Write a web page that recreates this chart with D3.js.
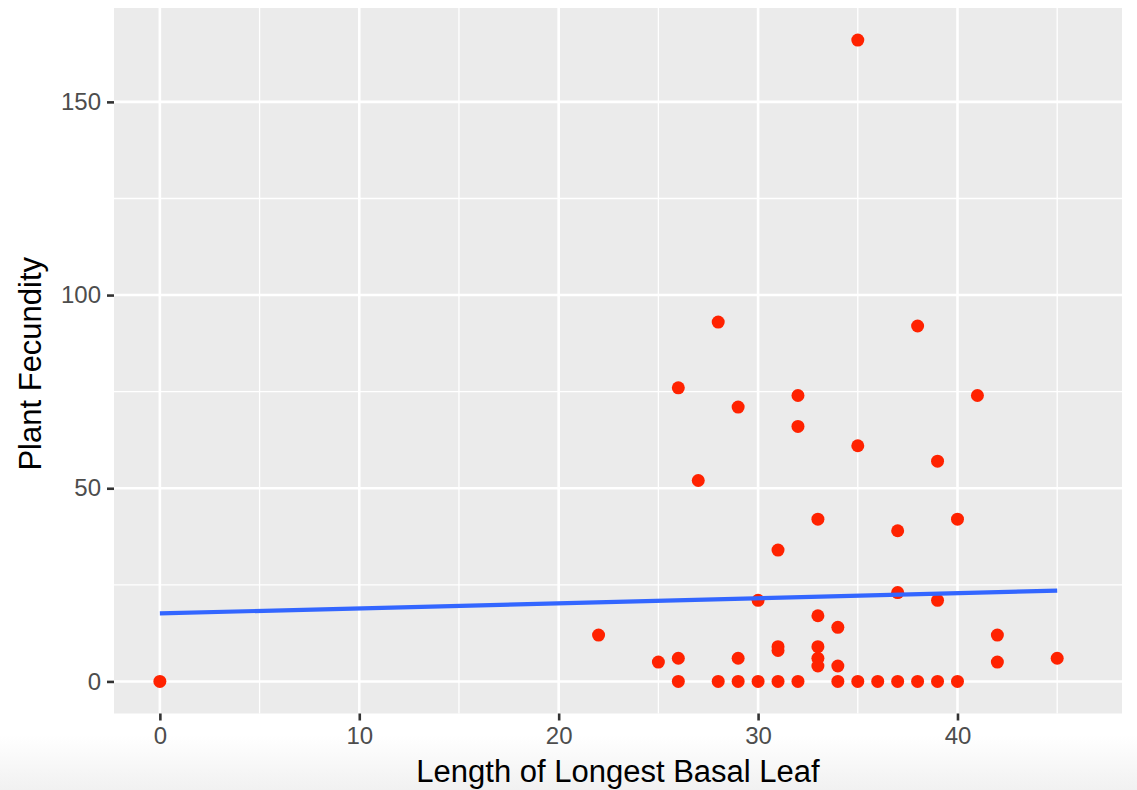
<!DOCTYPE html>
<meta charset="utf-8">
<style>
body { margin: 0; background: #fff; }
text { font-family: "Liberation Sans", Arial, Helvetica, sans-serif; }
</style>
<body>
<script src="https://d3js.org/d3.v7.min.js"></script>
<script>

// leaf length (x) and fecundity (y), one entry per plant
var leafLength = [0, 22, 25, 26, 26, 26, 27, 28, 28, 29, 29, 29, 30, 30,
                  31, 31, 31, 31, 32, 32, 32, 33, 33, 33, 33, 33, 34, 34, 34,
                  35, 35, 35, 36, 37, 37, 37, 38, 38, 39, 39, 39, 40, 40,
                  41, 42, 42, 45];
var fecundity  = [0, 12, 5, 76, 6, 0, 52, 93, 0, 71, 6, 0, 21, 0,
                  34, 9, 8, 0, 74, 66, 0, 42, 17, 9, 6, 4, 14, 4, 0,
                  166, 61, 0, 0, 39, 23, 0, 92, 0, 57, 21, 0, 42, 0,
                  74, 12, 5, 6];

// lm fit line
var fitX = [0, 45];
var fitY = [17.6, 23.5];

var xTicks = [0, 10, 20, 30, 40];
var xMinor = [5, 15, 25, 35, 45];
var yTicks = [0, 50, 100, 150];
var yMinor = [25, 75, 125];

var width = 1137,
    height = 790;

var svg = d3.select("body").append("svg")
    .attr("width", width)
    .attr("height", height);

// faint shadow band at the bottom of the screenshot
var grad = svg.append("defs").append("linearGradient")
    .attr("id", "shade").attr("x1", 0).attr("y1", 0).attr("x2", 0).attr("y2", 1);
grad.append("stop").attr("offset", "0%").attr("stop-color", "#fff");
grad.append("stop").attr("offset", "100%").attr("stop-color", "#f1f1f1");
svg.append("rect")
    .attr("x", 0).attr("y", 735).attr("width", width).attr("height", 55)
    .attr("fill", "url(#shade)");

var x = d3.scaleLinear().domain([-2.3, 48.25]).range([114, 1122]);
var y = d3.scaleLinear().domain([-8.3, 174.3]).range([713.5, 8]);

var pLeft = x.range()[0], pRight = x.range()[1],
    pTop = y.range()[1], pBottom = y.range()[0];

// panel
svg.append("rect")
    .attr("x", pLeft).attr("y", pTop)
    .attr("width", pRight - pLeft).attr("height", pBottom - pTop)
    .attr("fill", "#ebebeb");

// minor grid
svg.selectAll(".xminor").data(xMinor).enter().append("line")
    .attr("x1", x).attr("x2", x).attr("y1", pTop).attr("y2", pBottom)
    .attr("stroke", "#fff").attr("stroke-width", 1.3);
svg.selectAll(".yminor").data(yMinor).enter().append("line")
    .attr("y1", y).attr("y2", y).attr("x1", pLeft).attr("x2", pRight)
    .attr("stroke", "#fff").attr("stroke-width", 1.3);

// major grid
svg.selectAll(".xmajor").data(xTicks).enter().append("line")
    .attr("x1", x).attr("x2", x).attr("y1", pTop).attr("y2", pBottom)
    .attr("stroke", "#fff").attr("stroke-width", 2.6);
svg.selectAll(".ymajor").data(yTicks).enter().append("line")
    .attr("y1", y).attr("y2", y).attr("x1", pLeft).attr("x2", pRight)
    .attr("stroke", "#fff").attr("stroke-width", 2.6);

// axes
var xAxis = svg.append("g")
    .attr("transform", "translate(0," + pBottom + ")")
    .call(d3.axisBottom(x).tickValues(xTicks).tickSize(7).tickPadding(6));
var yAxis = svg.append("g")
    .attr("transform", "translate(" + pLeft + ",0)")
    .call(d3.axisLeft(y).tickValues(yTicks).tickSize(7).tickPadding(6));

[xAxis, yAxis].forEach(function(g) {
  g.select(".domain").remove();
  g.selectAll(".tick line").attr("stroke", "#333").attr("stroke-width", 2.6);
  g.selectAll(".tick text")
      .attr("fill", "#4d4d4d")
      .style("font-size", "24px");
});

// points
svg.selectAll("circle")
    .data(leafLength)
  .enter().append("circle")
    .attr("cx", function(d) { return x(d); })
    .attr("cy", function(d, i) { return y(fecundity[i]); })
    .attr("r", 6.5)
    .attr("fill", "#ff2200");

// fit line
svg.append("line")
    .attr("x1", x(fitX[0])).attr("y1", y(fitY[0]))
    .attr("x2", x(fitX[1])).attr("y2", y(fitY[1]))
    .attr("stroke", "#3366ff")
    .attr("stroke-width", 4.2);

// axis titles
svg.append("text")
    .attr("x", (pLeft + pRight) / 2)
    .attr("y", 782)
    .attr("text-anchor", "middle")
    .style("font-size", "31px")
    .attr("fill", "#000")
    .text("Length of Longest Basal Leaf");

svg.append("text")
    .attr("transform", "translate(41," + ((pTop + pBottom) / 2 + 3) + ") rotate(-90)")
    .attr("text-anchor", "middle")
    .style("font-size", "31px")
    .attr("fill", "#000")
    .text("Plant Fecundity");

</script>
</body>
